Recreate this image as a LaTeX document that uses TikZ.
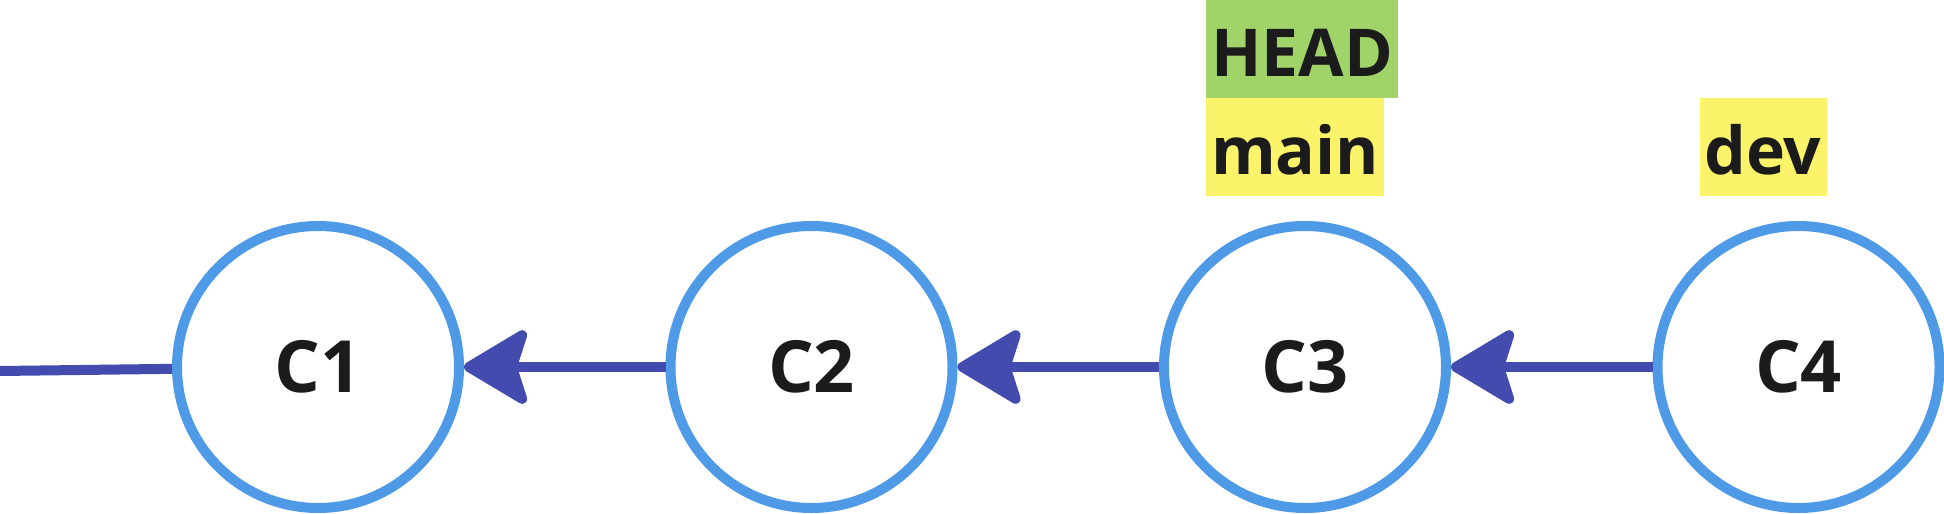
\documentclass[tikz,border=0pt]{standalone}
\usepackage{fontspec}
\setmainfont{Open Sans}
\usetikzlibrary{arrows.meta}
\definecolor{commitblue}{HTML}{4F9AE6}
\definecolor{linkblue}{HTML}{434BAE}
\definecolor{headgreen}{HTML}{A0D468}
\definecolor{branchyellow}{HTML}{FBF46A}
\definecolor{labelblack}{HTML}{1B1B1B}

\begin{document}
\begin{tikzpicture}[->, >={Stealth[length=71pt, width=84pt, inset=13pt, round]}, line width=10pt, draw=linkblue, node distance=493.5pt, x=1pt, y=-1pt]
                \tikzstyle{commit}=[circle, draw=commitblue, line width=10pt, fill=white, minimum size=282pt, inner sep=0pt, text=labelblack, font=\fontsize{72}{84}\selectfont\bfseries]
                \tikzstyle{ref}=[fill=branchyellow, anchor=south west, outer sep=0pt, inner xsep=5pt, inner ysep=0pt, minimum height=98pt, text height=58pt, text depth=4pt, text=labelblack, font=\fontsize{66}{80}\selectfont\bfseries]

                \useasboundingbox (0,0) rectangle (1944,514);

                % Define the commits
                \node[commit] (c1) at (318,367) {C1};
                \node[commit] (c2) [right of=c1] {C2};
                \node[commit] (c3) [right of=c2] {C3};
                \node[commit] (c4) [right of=c3] {C4};
                \coordinate (root) at (0,371);

                % Define the refs
                \node[ref] (main) at ([xshift=-99pt, yshift=25pt]c3.north) {main};
                \node[ref, fill=headgreen] (head) at (main.north west) {HEAD};
                \node[ref] (dev) at ([xshift=-99pt, yshift=25pt]c4.north) {dev};

                % Connect the commits with arrows
                \draw (c2) -- (c1);
                \draw (c3) -- (c2);
                \draw (c4) -- (c3);
                \draw[-] (root) -- (c1);

            \end{tikzpicture}
\end{document}
